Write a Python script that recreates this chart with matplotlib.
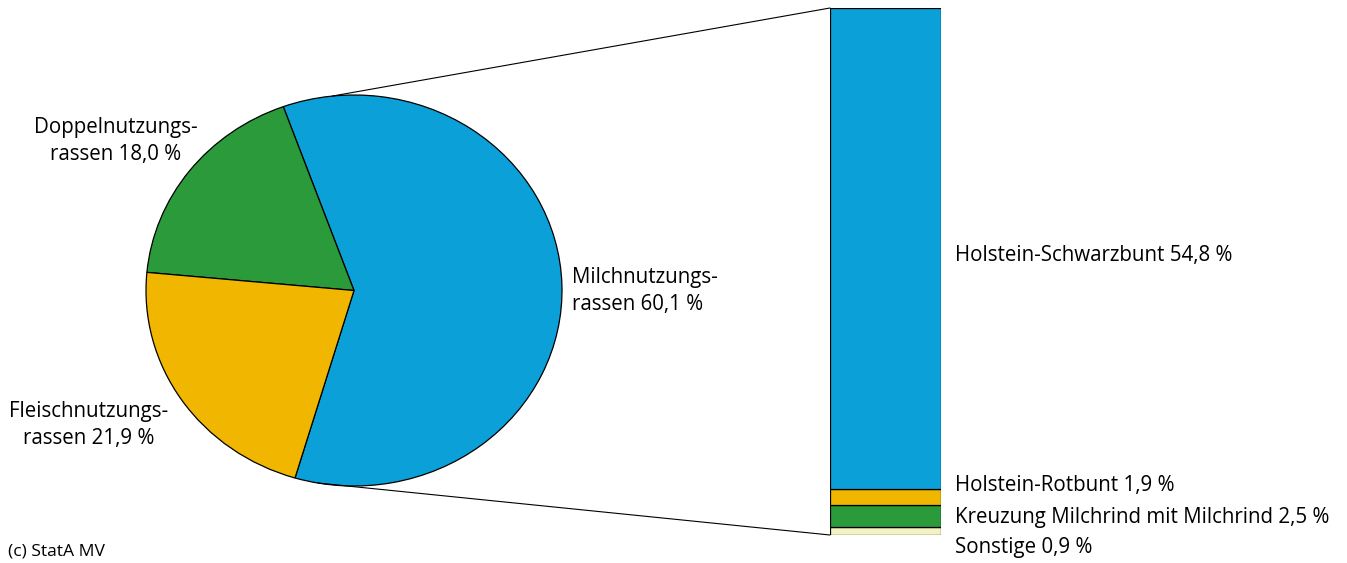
import matplotlib
matplotlib.use('Agg')
from matplotlib import pyplot as plt
from matplotlib.patches import ConnectionPatch
import numpy as np

# Werte
pie_labels = ['Milchnutzungs-\nrassen 60,1 %', 'Doppelnutzungs-\nrassen 18,0 %', 'Fleischnutzungs-\nrassen 21,9 %']
pie_values = [60.1, 18.0, 21.9]
pie_colors = ['#0ca0d8', '#2a9a3a', '#f1b600']

bar_labels = ['Sonstige 0,9 %', 'Kreuzung Milchrind mit Milchrind 2,5 %', 'Holstein-Rotbunt 1,9 %', 'Holstein-Schwarzbunt 54,8 %']
bar_values = [0.9, 2.5, 1.9, 54.8]
bar_colors = ['#f4f1c2', '#2a9a3a', '#f1b600', '#0ca0d8']

W, H = 1347, 563
plt.rcParams['font.family'] = ['Open Sans', 'DejaVu Sans']
fs = 14.8

fig = plt.figure(figsize=(W / 100, H / 100), dpi=100)

def box(x0, y0, x1, y1):
    return [x0 / W, 1 - y1 / H, (x1 - x0) / W, (y1 - y0) / H]

# Kreis (als Ellipse)
ap = fig.add_axes(box(146, 95, 562, 486))
start = -pie_values[0] / 100 * 360 / 2 + 1.7
ap.pie(pie_values, colors=pie_colors, startangle=start, counterclock=True,
       wedgeprops=dict(edgecolor='black', linewidth=0.9))
ap.set_aspect('auto')
ap.set_xlim(-1, 1)
ap.set_ylim(-1, 1)
ap.axis('off')

# Balken
ab = fig.add_axes(box(830, 8, 941, 535))
bottom = 0
for v, c in zip(bar_values, bar_colors):
    ab.bar(0.5, v, width=1, bottom=bottom, color=c, edgecolor='black', linewidth=0.9)
    bottom += v
ab.set_xlim(0, 1)
ab.set_ylim(0, sum(bar_values))
ab.axis('off')

# Verbindungslinien
for ang, yb in [(96.0, sum(bar_values)), (-100, 0)]:
    t = np.deg2rad(ang)
    con = ConnectionPatch(xyA=(np.cos(t), np.sin(t)), coordsA=ap.transData,
                          xyB=(0, yb), coordsB=ab.transData, color='black', linewidth=0.8)
    fig.add_artist(con)

def txt(x, y, s, size=fs, **kw):
    fig.text(x / W, 1 - y / H, s, fontsize=size, va='center', linespacing=1.42, **kw)

txt(572, 291, pie_labels[0], ha='left')
txt(116, 141, pie_labels[1], ha='center', multialignment='center')
txt(89, 425, pie_labels[2], ha='center', multialignment='center')

for y, s in zip([548, 518, 485, 255], bar_labels):
    txt(955, y, s, ha='left')

txt(8, 551, '(c) StatA MV', size=12.6, ha='left')

fig.savefig('out.png', dpi=100)
